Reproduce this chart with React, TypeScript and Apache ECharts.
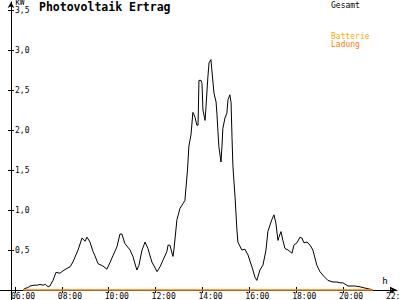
import React, { useEffect, useRef } from "react";
import * as echarts from "echarts";

// time of day in decimal hours, and power in kW (Gesamt)
const hours = [
  6.34, 6.43, 6.55, 6.64, 6.8, 6.95, 7.07, 7.2, 7.3, 7.41, 7.49, 7.62, 7.75, 7.92, 8.05, 8.22, 8.35, 8.47, 8.69, 8.86,
  8.99, 9.07, 9.2, 9.33, 9.41, 9.54, 9.75, 9.92, 10.05, 10.18, 10.35, 10.48, 10.56, 10.69, 10.91, 11.03, 11.2, 11.29,
  11.42, 11.55, 11.67, 11.84, 12.06, 12.19, 12.31, 12.48, 12.53, 12.61, 12.74, 12.78, 12.91, 13.04, 13.17, 13.25,
  13.36, 13.42, 13.51, 13.59, 13.68, 13.76, 13.81, 13.85, 13.94, 13.98, 14.02, 14.11, 14.15, 14.23, 14.28, 14.36,
  14.4, 14.49, 14.58, 14.62, 14.66, 14.7, 14.79, 14.83, 14.87, 14.96, 15.04, 15.09, 15.17, 15.22, 15.26, 15.3, 15.39,
  15.47, 15.51, 15.68, 15.81, 15.94, 16.11, 16.24, 16.32, 16.45, 16.58, 16.71, 16.79, 16.96, 17.05, 17.13, 17.22,
  17.26, 17.35, 17.43, 17.52, 17.65, 17.82, 17.9, 18.03, 18.16, 18.24, 18.33, 18.46, 18.59, 18.71, 18.88, 19.01,
  19.18, 19.35, 19.57, 19.74, 19.87, 19.99, 20.21, 20.51, 20.72, 20.85, 21.15, 21.27,
];
const gesamt = [
  0, 0.02, 0.03, 0.05, 0.06, 0.06, 0.07, 0.06, 0.07, 0.04, 0.05, 0.12, 0.22, 0.21, 0.24, 0.27, 0.29, 0.35, 0.5, 0.65,
  0.61, 0.66, 0.6, 0.48, 0.43, 0.33, 0.3, 0.26, 0.34, 0.43, 0.54, 0.7, 0.7, 0.58, 0.5, 0.42, 0.25, 0.31,
  0.5, 0.6, 0.52, 0.35, 0.23, 0.29, 0.37, 0.48, 0.56, 0.56, 0.42, 0.5, 0.88, 1.02, 1.08, 1.12,
  1.5, 1.8, 1.94, 2.22, 2.16, 2.06, 2.06, 2.62, 2.62, 2.58, 2.25, 2.12, 2.29, 2.66, 2.84, 2.88,
  2.75, 2.46, 2.35, 2.19, 1.98, 1.79, 1.6, 1.79, 2.02, 2.15, 2.21, 2.38, 2.44, 2.34, 1.91, 1.54, 1.16,
  0.75, 0.6, 0.5, 0.51, 0.44, 0.29, 0.16, 0.12, 0.25, 0.31, 0.5, 0.73, 0.88, 0.94, 0.84, 0.62,
  0.66, 0.73, 0.62, 0.52, 0.5, 0.46, 0.56, 0.59, 0.66, 0.65, 0.59, 0.6, 0.56, 0.5, 0.31, 0.23,
  0.17, 0.12, 0.1, 0.1, 0.09, 0.09, 0.05, 0.05, 0.04, 0.03, 0.01, 0,
];
const ladungHours = [6.34, 21.27];
const ladung = [0, 0];
const batterie: number[][] = [];

const xTicks = [6, 8, 10, 12, 14, 16, 18, 20, 22];
const yTicks = [0.5, 1.0, 1.5, 2.0, 2.5, 3.0, 3.5];

const FONT = "DejaVu Sans Mono";

export default function App() {
  const ref = useRef<HTMLDivElement>(null);
  useEffect(() => {
    if (!ref.current) return;
    const chart = echarts.init(ref.current, null, { renderer: "svg" });
    const xBase = {
      type: "value",
      min: 5.36,
      max: 22.3,
      position: "bottom",
      offset: -10,
      splitLine: { show: false },
    };
    const yBase = {
      type: "value",
      min: -0.125,
      max: 3.6,
      offset: -11,
      position: "left",
      splitLine: { show: false },
    };
    chart.setOption({
      animation: false,
      backgroundColor: "#ffffff",
      title: {
        text: "Photovoltaik Ertrag",
        left: 39,
        top: 1,
        padding: 0,
        textStyle: { fontFamily: FONT, fontSize: 11.5, fontWeight: "bold", color: "#000" },
      },
      legend: [
        {
          data: [{ name: "Gesamt", textStyle: { color: "#000" } }],
          left: 325,
          top: 1,
          padding: 0,
          itemWidth: 0,
          itemHeight: 0,
          selectedMode: false,
          textStyle: { fontFamily: FONT, fontSize: 8 },
        },
        {
          data: [
            { name: "Batterie", textStyle: { color: "#ffaa00" } },
            { name: "Ladung", textStyle: { color: "#ff8000" } },
          ],
          orient: "vertical",
          left: 325,
          top: 32,
          padding: 0,
          itemGap: 0,
          itemWidth: 0,
          itemHeight: 0,
          selectedMode: false,
          textStyle: { fontFamily: FONT, fontSize: 8 },
        },
      ],
      grid: { left: 0, right: 3, top: 2, bottom: 0, containLabel: false, outerBoundsMode: "none" },
      xAxis: [
        {
          ...xBase,
          name: "h",
          nameLocation: "end",
          nameGap: -12,
          nameTextStyle: {
            fontFamily: FONT,
            fontSize: 9,
            color: "#000",
            align: "center",
            verticalAlign: "bottom",
            padding: [0, 0, 5, 0],
          },
          axisLine: {
            onZero: false,
            lineStyle: { color: "#000", width: 1 },
            symbol: ["none", "arrow"],
            symbolSize: [5, 7],
          },
          axisTick: { customValues: xTicks, length: 3, lineStyle: { color: "#000" } },
          axisLabel: {
            customValues: xTicks,
            formatter: (v: number) => `${String(v).padStart(2, "0")}:00`,
            fontFamily: FONT,
            fontSize: 8,
            color: "#000",
            align: "left",
            padding: [0, 0, 0, -4],
            margin: 2,
          },
        },
        {
          ...xBase,
          axisLine: { show: false, onZero: false },
          axisTick: { customValues: xTicks, inside: true, length: 3, lineStyle: { color: "#000" } },
          axisLabel: { show: false },
        },
      ],
      yAxis: [
        {
          ...yBase,
          name: "kW",
          nameLocation: "end",
          nameGap: -1,
          nameTextStyle: {
            fontFamily: FONT,
            fontSize: 8,
            color: "#000",
            align: "left",
            verticalAlign: "top",
            padding: [0, 0, 0, 4],
          },
          axisLine: {
            show: true,
            lineStyle: { color: "#000", width: 1 },
            symbol: ["none", "arrow"],
            symbolSize: [5, 6],
          },
          axisTick: { customValues: yTicks, length: 3, lineStyle: { color: "#000" } },
          axisLabel: {
            customValues: yTicks,
            inside: true,
            margin: 4,
            formatter: (v: number) => v.toFixed(1).replace(".", ","),
            fontFamily: FONT,
            fontSize: 8,
            color: "#000",
          },
        },
        {
          ...yBase,
          axisLine: { show: false },
          axisTick: { customValues: yTicks, inside: true, length: 3, lineStyle: { color: "#000" } },
          axisLabel: { show: false },
        },
      ],
      series: [
        {
          name: "Gesamt",
          type: "line",
          data: hours.map((h, i) => [h, gesamt[i]]),
          showSymbol: false,
          symbol: "none",
          color: "#000",
          lineStyle: { color: "#000", width: 1 },
        },
        {
          name: "Batterie",
          type: "line",
          data: batterie,
          showSymbol: false,
          symbol: "none",
          color: "#ffaa00",
          lineStyle: { color: "#ffaa00", width: 1 },
        },
        {
          name: "Ladung",
          type: "line",
          data: ladungHours.map((h, i) => [h, ladung[i]]),
          showSymbol: false,
          symbol: "none",
          color: "#ff8000",
          lineStyle: { color: "#ff8000", width: 1.5 },
        },
      ],
    });
    return () => chart.dispose();
  }, []);
  return <div ref={ref} style={{ width: 400, height: 300, position: "absolute", left: 0, top: 0 }} />;
}
